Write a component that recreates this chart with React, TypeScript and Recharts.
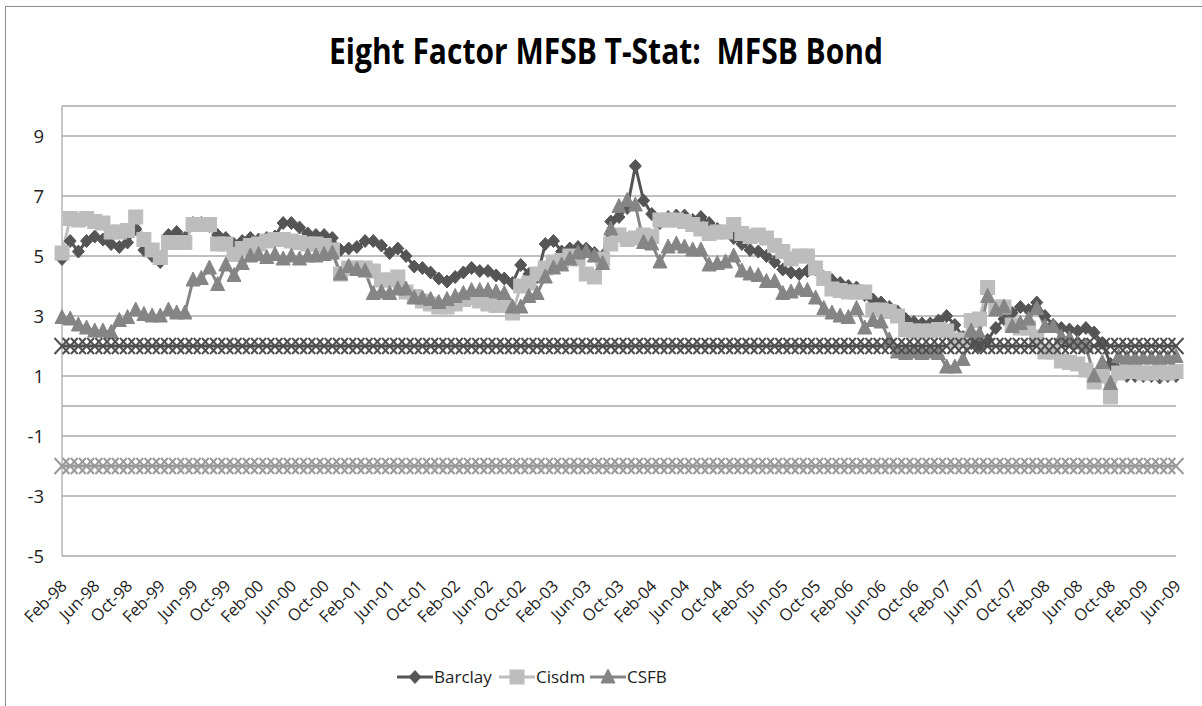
import React from 'react';
import { LineChart, Line, XAxis, YAxis, CartesianGrid, ReferenceLine, Legend } from 'recharts';

const TITLE = 'Eight Factor MFSB T-Stat:  MFSB Bond';
const MONTH_NAMES = ['Jan', 'Feb', 'Mar', 'Apr', 'May', 'Jun', 'Jul', 'Aug', 'Sep', 'Oct', 'Nov', 'Dec'];
const FIRST_YEAR = 1998;
const FIRST_MONTH = 1; // Feb
const N_MONTHS = 137; // Feb-98 .. Jun-09

const categories: string[] = [];
for (let k = 0; k < N_MONTHS; k++) {
  const t = FIRST_MONTH + k;
  const y = FIRST_YEAR + Math.floor(t / 12);
  categories.push(`${MONTH_NAMES[t % 12]}-${String(y % 100).padStart(2, '0')}`);
}

const barclay = [
  4.9, 5.5, 5.15, 5.5, 5.65, 5.55, 5.4, 5.3, 5.45, 5.9,
  5.2, 5.0, 4.8, 5.7, 5.8, 5.6, 6.1, 6.1, 6.0, 5.7,
  5.6, 5.4, 5.5, 5.6, 5.55, 5.6, 5.65, 6.1, 6.1, 5.95,
  5.75, 5.7, 5.7, 5.6, 5.2, 5.25, 5.3, 5.5, 5.5, 5.35,
  5.1, 5.25, 5.0, 4.65, 4.6, 4.45, 4.25, 4.15, 4.3, 4.45,
  4.6, 4.5, 4.5, 4.35, 4.25, 4.1, 4.7, 4.4, 4.3, 5.4,
  5.5, 5.15, 5.25, 5.3, 5.25, 5.1, 5.0, 6.15, 6.3, 6.6,
  8.0, 6.85, 6.4, 6.1, 6.3, 6.35, 6.35, 6.2, 6.3, 6.1,
  5.9, 5.8, 5.6, 5.4, 5.2, 5.15, 5.0, 4.8, 4.55, 4.45,
  4.4, 4.5, 4.55, 4.3, 4.2, 4.1, 4.0, 3.95, 3.7, 3.55,
  3.45, 3.3, 3.15, 2.9, 2.8, 2.75, 2.75, 2.85, 3.0, 2.7,
  2.3, 2.1, 2.0, 2.2, 2.6, 2.9, 3.1, 3.3, 3.2, 3.45,
  3.0, 2.7, 2.6, 2.55, 2.5, 2.6, 2.45, 2.1, 1.4, 1.2,
  1.0, 1.0, 1.0, 1.0, 0.95, 1.0, 1.0,
];

const cisdm = [
  5.1, 6.25, 6.2, 6.25, 6.15, 6.1, 5.8, 5.8, 5.85, 6.3,
  5.55, 5.2, 4.95, 5.45, 5.45, 5.45, 6.05, 6.05, 6.05, 5.4,
  5.4, 5.05, 5.25, 5.35, 5.4, 5.5, 5.55, 5.55, 5.5, 5.45,
  5.4, 5.4, 5.35, 5.2, 4.4, 4.6, 4.6, 4.6, 4.5, 4.2,
  4.2, 4.3, 3.8, 3.65, 3.5, 3.4, 3.3, 3.3, 3.4, 3.55,
  3.6, 3.5, 3.4, 3.35, 3.35, 3.1, 4.0, 4.1, 4.4, 4.6,
  4.8, 4.85, 5.0, 4.9, 4.4, 4.3, 4.9, 5.4, 5.7, 5.55,
  5.6, 5.7, 5.65, 6.2, 6.2, 6.2, 6.15, 6.05, 5.9, 5.75,
  5.8, 5.8, 6.05, 5.75, 5.65, 5.7, 5.6, 5.35, 5.15, 4.9,
  5.0, 5.0, 4.6, 4.25, 3.9, 3.85, 3.8, 3.8, 3.8, 3.2,
  3.2, 3.15, 3.0, 2.55, 2.5, 2.5, 2.5, 2.55, 2.5, 2.2,
  2.2, 2.85, 2.9, 3.95, 3.3, 3.3, 2.7, 2.6, 2.6, 2.3,
  1.8, 1.8, 1.5, 1.45, 1.4, 1.2, 0.8, 1.0, 0.3, 1.1,
  1.15, 1.15, 1.1, 1.1, 1.15, 1.1, 1.15,
];

const csfb = [
  2.95, 2.9, 2.7, 2.6, 2.5, 2.5, 2.45, 2.85, 2.95, 3.2,
  3.05, 3.0, 3.0, 3.2, 3.1, 3.1, 4.2, 4.25, 4.6, 4.05,
  4.7, 4.35, 4.75, 5.0, 5.05, 4.95, 5.05, 4.9, 5.0, 4.9,
  5.0, 5.0, 5.05, 5.1, 4.4, 4.65, 4.55, 4.5, 3.75, 3.8,
  3.75, 3.9, 3.9, 3.6, 3.6, 3.55, 3.45, 3.55, 3.65, 3.75,
  3.85, 3.85, 3.85, 3.8, 3.75, 3.3, 3.3, 3.65, 3.75, 4.3,
  4.6, 4.7, 4.9, 5.1, 5.15, 5.0, 4.75, 5.9, 6.65, 6.85,
  6.7, 5.45, 5.4, 4.8, 5.3, 5.4, 5.3, 5.2, 5.2, 4.7,
  4.75, 4.8, 5.0, 4.5, 4.4, 4.35, 4.15, 4.15, 3.75, 3.8,
  3.9, 3.85, 3.6, 3.25, 3.1, 3.0, 2.95, 3.25, 2.6, 2.85,
  2.8, 2.2, 1.8, 1.75, 1.8, 1.75, 1.8, 1.75, 1.3, 1.3,
  1.55, 2.5, 2.4, 3.65, 3.2, 3.3, 2.65, 2.75, 2.9, 3.25,
  2.65, 2.65, 2.3, 2.25, 2.1, 2.0, 1.0, 1.45, 0.75, 1.65,
  1.6, 1.6, 1.6, 1.6, 1.6, 1.6, 1.65,
];

const UPPER_CRITICAL = 2;
const LOWER_CRITICAL = -2;

const Y_DOMAIN: [number, number] = [-5, 10];
const Y_TICKS = [-5, -3, -1, 1, 3, 5, 7, 9];

const data = categories.map((month, i) => ({
  month,
  barclay: barclay[i],
  cisdm: cisdm[i],
  csfb: csfb[i],
  upper: UPPER_CRITICAL,
  lower: LOWER_CRITICAL,
}));

const FONT = "'Open Sans', 'Lato', sans-serif";

const COLORS = {
  barclay: '#555555',
  cisdm: '#bdbdbd',
  csfb: '#858585',
  upper: '#4f4f4f',
  lower: '#9a9a9a',
  grid: '#a9a9a9',
};

type Shape = 'diamond' | 'square' | 'triangle' | 'x';

function markerEl(shape: Shape, cx: number, cy: number, color: string, key?: any) {
  if (shape === 'diamond') {
    return (
      <polygon key={key} points={`${cx},${cy - 6.5} ${cx + 6},${cy} ${cx},${cy + 6.5} ${cx - 6},${cy}`} fill={color} stroke={color} strokeWidth={1} />
    );
  }
  if (shape === 'square') {
    return <rect key={key} x={cx - 7} y={cy - 7} width={14} height={14} fill={color} stroke={color} strokeWidth={1} />;
  }
  if (shape === 'triangle') {
    return (
      <polygon key={key} points={`${cx},${cy - 8} ${cx + 7},${cy + 6} ${cx - 7},${cy + 6}`} fill={color} stroke={color} strokeWidth={1} />
    );
  }
  return (
    <g key={key}>
      <line x1={cx - 7.5} y1={cy - 8} x2={cx + 7.5} y2={cy + 8} stroke={color} strokeWidth={2} />
      <line x1={cx - 7.5} y1={cy + 8} x2={cx + 7.5} y2={cy - 8} stroke={color} strokeWidth={2} />
    </g>
  );
}

const makeDot = (shape: Shape, color: string) => (props: any) => {
  const { cx, cy, index } = props;
  if (cx == null || cy == null) return <g key={`e-${index}`} />;
  return markerEl(shape, cx, cy, color, `m-${index}`);
};

const LEGEND_ORDER = ['barclay', 'cisdm', 'csfb'];
const SHAPES: Record<string, Shape> = { barclay: 'diamond', cisdm: 'square', csfb: 'triangle' };
const LEGEND_OFFSETS = [0, 102, 193];

const LegendContent = (props: any) => {
  const payload = (props.payload || [])
    .filter((p: any) => SHAPES[p.dataKey])
    .sort((a: any, b: any) => LEGEND_ORDER.indexOf(a.dataKey) - LEGEND_ORDER.indexOf(b.dataKey));
  return (
    <svg width={290} height={26} style={{ overflow: 'visible' }}>
      {payload.map((p: any, i: number) => {
        const x0 = LEGEND_OFFSETS[i] ?? i * 100;
        const color = COLORS[p.dataKey as keyof typeof COLORS];
        return (
          <g key={p.dataKey}>
            <line x1={x0} y1={13} x2={x0 + 36} y2={13} stroke={color} strokeWidth={3} />
            {markerEl(SHAPES[p.dataKey], x0 + 18, 13, color)}
            <text x={x0 + 37} y={13} dy="0.36em" fontSize={17} fontFamily={FONT} fill="#222">
              {p.value}
            </text>
          </g>
        );
      })}
    </svg>
  );
};

const XTick = (props: any) => {
  const { x, y, payload } = props;
  const px = x + 6;
  const py = y + 31;
  return (
    <text x={px} y={py} textAnchor="end" fontSize={16.5} fontFamily={FONT} fill="#222" transform={`rotate(-45, ${px}, ${py})`}>
      {payload.value}
    </text>
  );
};

const YTick = (props: any) => {
  const { x, y, payload } = props;
  return (
    <text x={x} y={y} dy="0.36em" textAnchor="end" fontSize={18.5} fontFamily={FONT} fill="#222">
      {payload.value}
    </text>
  );
};

export default function App() {
  return (
    <div style={{ position: 'absolute', left: 0, top: 0, width: 1202, height: 706, overflow: 'hidden', background: '#fff' }}>
      <div
        style={{
          position: 'absolute',
          left: 5,
          top: 6,
          width: 1300,
          height: 800,
          borderLeft: '1.5px solid #8c8c8c',
          borderTop: '1.5px solid #8c8c8c',
        }}
      />
      <svg width={1202} height={90} style={{ position: 'absolute', left: 0, top: 0 }}>
        <text
          x={606}
          y={64}
          textAnchor="middle"
          fontSize={36}
          fontWeight="bold"
          fontFamily={FONT}
          fill="#000"
          textLength={554}
          lengthAdjust="spacingAndGlyphs"
          style={{ whiteSpace: 'pre' }}
          xmlSpace="preserve"
        >
          {TITLE}
        </text>
      </svg>
      <div style={{ position: 'absolute', left: 0, top: 0 }}>
        <LineChart width={1202} height={706} data={data} margin={{ top: 106, right: 26, bottom: 90, left: 0 }}>
          <CartesianGrid horizontal vertical={false} stroke={COLORS.grid} strokeWidth={1.3} />
          <XAxis
            dataKey="month"
            axisLine={false}
            tickLine={false}
            tickSize={0}
            tickMargin={0}
            height={60}
            interval={3}
            tick={<XTick />}
          />
          <YAxis
            domain={Y_DOMAIN}
            ticks={Y_TICKS}
            width={62}
            axisLine={{ stroke: COLORS.grid, strokeWidth: 1.3 }}
            tickLine={false}
            tickSize={0}
            tickMargin={18}
            tick={<YTick />}
            allowDataOverflow
          />
          <ReferenceLine y={0} stroke={COLORS.grid} strokeWidth={1.3} />
          <Legend
            layout="horizontal"
            verticalAlign="middle"
            align="center"
            content={<LegendContent />}
            wrapperStyle={{ left: 397, top: 664, width: 290, height: 26 }}
          />
          <Line name="Barclay" dataKey="barclay" type="linear" stroke={COLORS.barclay} strokeWidth={3} dot={makeDot('diamond', COLORS.barclay)} activeDot={false} isAnimationActive={false} />
          <Line name="Cisdm" dataKey="cisdm" type="linear" stroke={COLORS.cisdm} strokeWidth={3} dot={makeDot('square', COLORS.cisdm)} activeDot={false} isAnimationActive={false} />
          <Line name="CSFB" dataKey="csfb" type="linear" stroke={COLORS.csfb} strokeWidth={3} dot={makeDot('triangle', COLORS.csfb)} activeDot={false} isAnimationActive={false} />
          <Line name="Upper" dataKey="upper" type="linear" legendType="none" stroke={COLORS.upper} strokeWidth={3} dot={makeDot('x', COLORS.upper)} activeDot={false} isAnimationActive={false} />
          <Line name="Lower" dataKey="lower" type="linear" legendType="none" stroke={COLORS.lower} strokeWidth={3} dot={makeDot('x', COLORS.lower)} activeDot={false} isAnimationActive={false} />
        </LineChart>
      </div>
    </div>
  );
}
